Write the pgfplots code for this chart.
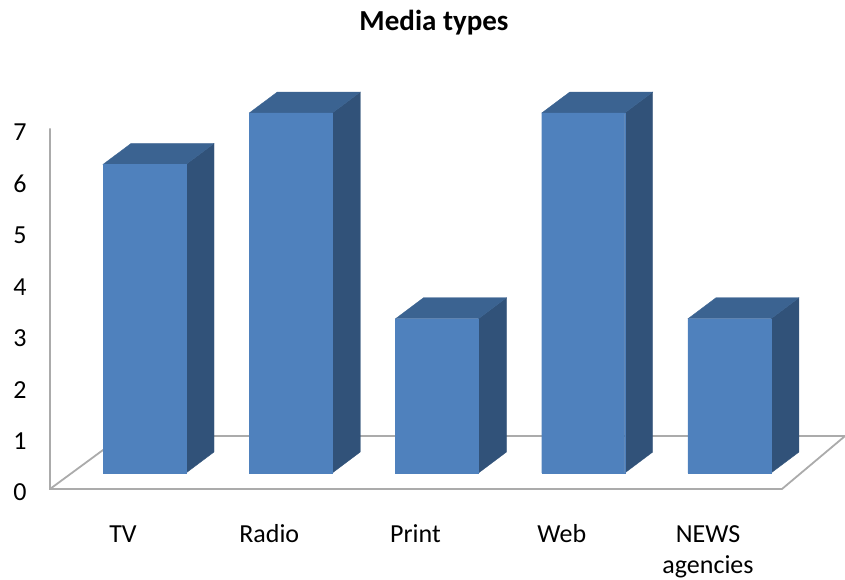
\documentclass[border=0pt]{standalone}
\usepackage{fontspec}
\setmainfont{Carlito}
\usepackage{pgfplots}
\pgfplotsset{compat=1.18}
\definecolor{barfront}{HTML}{4F81BD}
\definecolor{bartop}{HTML}{3B6391}
\definecolor{barside}{HTML}{315279}
\definecolor{floorline}{HTML}{ABABAB}
\begin{document}
\begin{tikzpicture}[x=1pt,y=1pt]
\path[use as bounding box] (0,0) rectangle (845,-580);
\begin{axis}[
  at={(50pt,-489pt)}, anchor=south west,
  scale only axis, width=795pt, height=397pt,
  xmin=-0.6462, xmax=4.790, ymin=-0.3107, ymax=7.408,
  clip=false,
  axis line style={draw=none},
  tick style={draw=none},
  major tick length=0pt,
  xtick={-0.147,0.853,1.853,2.853,3.853},
  xticklabels={{\rule{0pt}{20pt}TV},{\rule{0pt}{20pt}Radio},{\rule{0pt}{20pt}Print},{\rule{0pt}{20pt}Web},{\rule{0pt}{20pt}NEWS\\agencies}},
  xticklabel style={align=center, anchor=north, yshift=-30pt, font=\fontsize{26}{31}\selectfont},
  ytick={-0.3107,0.6893,1.6893,2.6893,3.6893,4.6893,5.6893,6.6893},
  yticklabels={0,1,2,3,4,5,6,7},
  yticklabel style={anchor=center, xshift=-30pt, yshift=-3.5pt, font=\fontsize{26}{28}\selectfont},
  /pgf/number format/assume math mode=true,
]
% axis wall and floor
\addplot[floorline, line width=1.8pt] coordinates {(-0.6462,6.699)(-0.6462,-0.3107)(4.359,-0.3107)(4.790,0.7184)(-0.154,0.7184)(-0.6462,-0.3107)};
% side faces
\addplot[fill=barside,draw=barside,line width=0.3pt] coordinates {(0.2838,0)(0.4753,0.4078)(0.4753,6.4078)(0.2838,6)} --cycle;
\addplot[fill=barside,draw=barside,line width=0.3pt] coordinates {(1.2838,0)(1.4753,0.4078)(1.4753,7.4078)(1.2838,7)} --cycle;
\addplot[fill=barside,draw=barside,line width=0.3pt] coordinates {(2.2838,0)(2.4753,0.4078)(2.4753,3.4078)(2.2838,3)} --cycle;
\addplot[fill=barside,draw=barside,line width=0.3pt] coordinates {(3.2838,0)(3.4753,0.4078)(3.4753,7.4078)(3.2838,7)} --cycle;
\addplot[fill=barside,draw=barside,line width=0.3pt] coordinates {(4.2838,0)(4.4753,0.4078)(4.4753,3.4078)(4.2838,3)} --cycle;
% top faces
\addplot[fill=bartop,draw=bartop,line width=0.3pt] coordinates {(-0.2838,6)(0.2838,6)(0.4753,6.4078)(-0.0923,6.4078)} --cycle;
\addplot[fill=bartop,draw=bartop,line width=0.3pt] coordinates {(0.7162,7)(1.2838,7)(1.4753,7.4078)(0.9077,7.4078)} --cycle;
\addplot[fill=bartop,draw=bartop,line width=0.3pt] coordinates {(1.7162,3)(2.2838,3)(2.4753,3.4078)(1.9077,3.4078)} --cycle;
\addplot[fill=bartop,draw=bartop,line width=0.3pt] coordinates {(2.7162,7)(3.2838,7)(3.4753,7.4078)(2.9077,7.4078)} --cycle;
\addplot[fill=bartop,draw=bartop,line width=0.3pt] coordinates {(3.7162,3)(4.2838,3)(4.4753,3.4078)(3.9077,3.4078)} --cycle;
% front faces
\addplot[ybar, bar width=83pt, bar shift=0pt, fill=barfront, draw=barfront, line width=0.3pt] coordinates {(0,6)(1,7)(2,3)(3,7)(4,3)};
\end{axis}
\node[font=\fontsize{29}{32}\selectfont\bfseries, anchor=base] at (434,-31) {Media types};
\end{tikzpicture}
\end{document}
